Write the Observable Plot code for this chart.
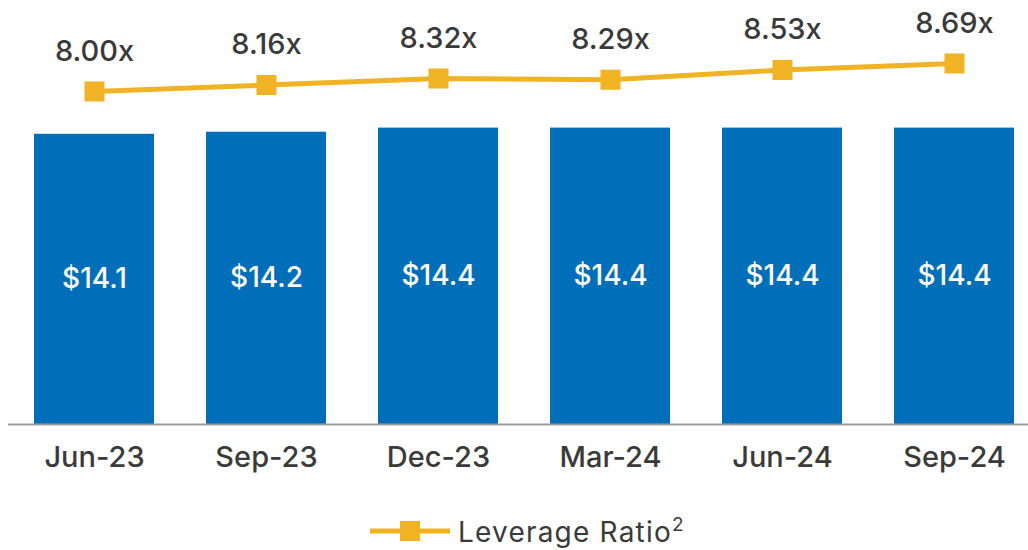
<!DOCTYPE html>
<html>
<head>
<meta charset="utf-8">
<script src="https://cdn.jsdelivr.net/npm/d3@7"></script>
<script src="https://cdn.jsdelivr.net/npm/@observablehq/plot@0.6"></script>
<style>
  html, body { margin: 0; padding: 0; background: #fff; }
  #wrap { position: relative; width: 1028px; height: 550px; font-family: Inter, sans-serif; }
  #wrap svg { position: absolute; left: 0; top: 0; overflow: visible; }
  #legend { position: absolute; left: 370px; top: 513px; display: flex; align-items: center; color: #3a3a3a; font-size: 28px; font-weight: 400; letter-spacing: 1.2px; white-space: nowrap; }
  #legend sup { font-size: 19px; vertical-align: 11px; margin-left: 0px; }
</style>
</head>
<body>
<div id="wrap"><div id="legend"></div></div>
<script>
const periods = ["Jun-23", "Sep-23", "Dec-23", "Mar-24", "Jun-24", "Sep-24"];
const balances = [14.1, 14.2, 14.4, 14.4, 14.4, 14.4];
const leverage = [8.00, 8.16, 8.32, 8.29, 8.53, 8.69];
const seriesName = "Leverage Ratio";

const blue = "#006EB9";
const gold = "#F0B323";
const ink = "#3a3a3a";

const bars = periods.map((p, i) => ({period: p, value: balances[i]}));
const line = periods.map((p, i) => ({period: p, value: leverage[i]}));

const common = {
  width: 1028,
  height: 470,
  marginTop: 0,
  marginBottom: 46,
  marginLeft: 20,
  marginRight: 0,
  style: {fontFamily: "Inter, sans-serif", overflow: "visible", background: "transparent"}
};
const xScale = {type: "band", domain: periods, paddingInner: 52 / 172, paddingOuter: 14 / 172, round: false, axis: null};

const barPlot = Plot.plot({
  ...common,
  x: xScale,
  y: {domain: [0, 20.6], axis: null},
  marks: [
    Plot.barY(bars, {x: "period", y: "value", fill: blue}),
    Plot.ruleY([0], {stroke: "#9a9a9a", strokeWidth: 2, insetLeft: -12}),
    Plot.text(bars, {x: "period", y: d => d.value / 2, text: d => "$" + d.value.toFixed(1), fill: "white", fontSize: 28, letterSpacing: 1, fontWeight: 450}),
    Plot.axisX({tickSize: 0, tickPadding: 22, fontSize: 29, fill: ink, letterSpacing: 1.8, fontWeight: 450, label: null})
  ]
});

const linePlot = Plot.plot({
  ...common,
  x: xScale,
  y: {domain: [-0.202, 10.241], axis: null},
  marks: [
    Plot.line(line, {x: "period", y: "value", stroke: gold, strokeWidth: 5}),
    Plot.dot(line, {x: "period", y: "value", symbol: "square", r: 11.3, fill: gold, stroke: "none"}),
    Plot.text(line, {x: "period", y: "value", text: d => d.value.toFixed(2) + "x", dy: -40, fontSize: 29, fill: ink, letterSpacing: 1.8, fontWeight: 450})
  ]
});

const wrap = document.getElementById("wrap");
wrap.appendChild(barPlot);
wrap.appendChild(linePlot);

const legend = document.getElementById("legend");
legend.innerHTML = `<svg width="80" height="24" style="position:static;margin-right:8px"><line x1="0" x2="80" y1="12" y2="12" stroke="${gold}" stroke-width="5"/><rect x="30" y="2" width="20" height="20" fill="${gold}"/></svg><span>${seriesName}<sup>2</sup></span>`;
</script>
</body>
</html>
